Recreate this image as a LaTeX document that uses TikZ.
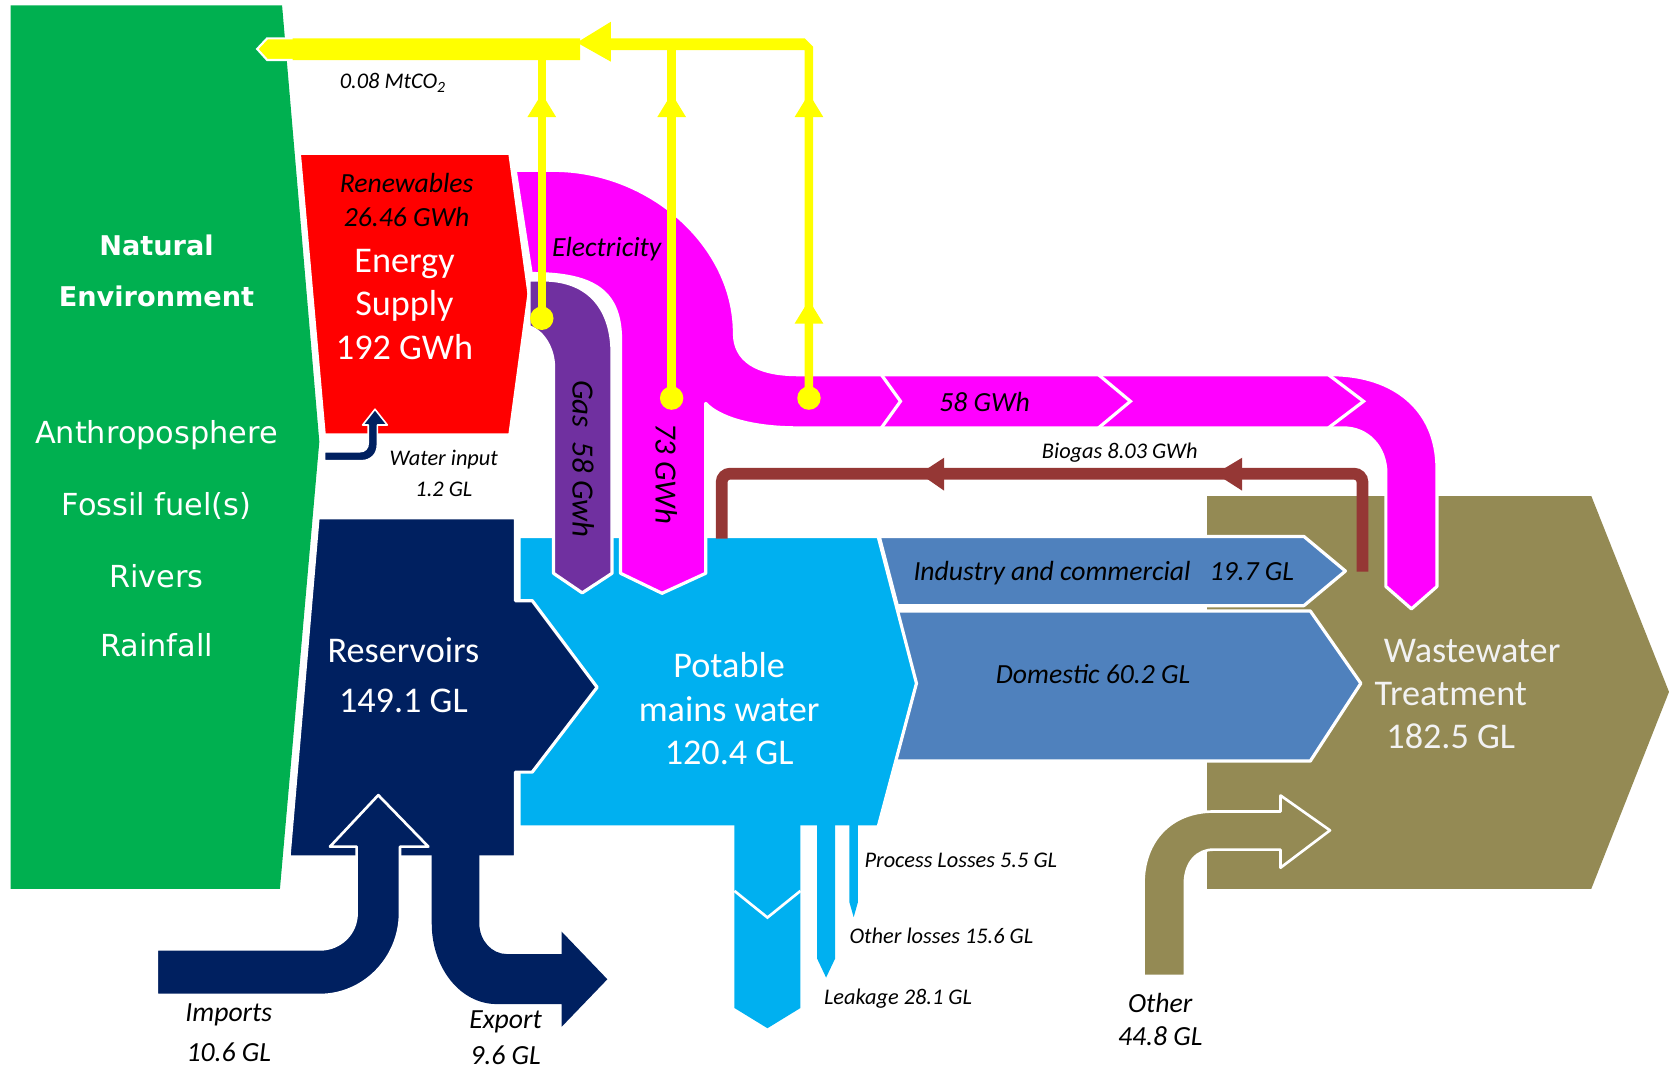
\documentclass[tikz,border=0pt]{standalone}
\usepackage{fontspec}
\setmainfont{Carlito}
\newfontfamily\envfont{DejaVu Sans}
\usepackage{xcolor}
\usetikzlibrary{positioning}

\definecolor{envgreen}{HTML}{00B050}
\definecolor{enred}{HTML}{FF0000}
\definecolor{resnavy}{HTML}{002060}
\definecolor{potblue}{HTML}{00B0F0}
\definecolor{useblue}{HTML}{4F81BD}
\definecolor{wwolive}{HTML}{948A54}
\definecolor{elmag}{HTML}{FF00FF}
\definecolor{gaspurple}{HTML}{7030A0}
\definecolor{co2yel}{HTML}{FFFF00}
\definecolor{biobrown}{HTML}{953735}

\begin{document}
\begin{tikzpicture}[
    x=1pt, y=-1pt,
    flow/.style={draw=white, line width=3pt, line join=round},
    big/.style={font=\fontsize{34}{41}\selectfont, text=white, align=center, inner sep=0pt},
    env/.style={font=\envfont\fontsize{28.5}{33}\selectfont, text=white, inner sep=0pt},
    envb/.style={font=\envfont\bfseries\fontsize{25.5}{30}\selectfont, text=white, inner sep=0pt},
    lbl/.style={font=\itshape\fontsize{26}{31}\selectfont, inner sep=0pt, align=center},
    vlbl/.style={font=\itshape\fontsize{29}{34}\selectfont, inner sep=0pt, rotate=-90},
    sml/.style={font=\itshape\fontsize{21}{25}\selectfont, inner sep=0pt},
    co2/.style={co2yel, line width=8pt},
]
\useasboundingbox (0,0) rectangle (1568,1006);

% ===== Natural environment =====
\fill[envgreen] (10,5) -- (265,5) -- (300,415) -- (263,835) -- (10,835) -- cycle;

% ===== Wastewater treatment =====
\fill[wwolive] (1134,466) -- (1495,466) -- (1568,650) -- (1495,835) -- (1134,835) -- cycle;

% ===== Water use arrows =====
\filldraw[useblue, flow] (826,504) -- (1225,504) -- (1264,536.5) -- (1225,569) -- (843,569) -- cycle;
\filldraw[useblue, flow] (835,574) -- (1231,574) -- (1278.5,642) -- (1231,715) -- (835,715) -- cycle;

% ===== Potable mains water =====
\filldraw[potblue, flow] (487.5,504) -- (825,504) -- (861,642) -- (825,777) -- (487.5,777) -- cycle;

% losses below potable box
\fill[potblue] (690,774) -- (752,774) -- (752,947) -- (721,966) -- (690,947) -- cycle;
\draw[white, line width=2.5pt] (690,837) -- (721,862) -- (752,837);
\fill[potblue] (767.7,774) -- (784.5,774) -- (784.5,900.7) -- (776.1,918.4) -- (767.7,900.7) -- cycle;
\fill[potblue] (798,774) -- (806,774) -- (806,847.6) -- (802,861.7) -- (798,847.6) -- cycle;

% ===== Reservoirs =====
\filldraw[resnavy, flow] (298.8,486.4) -- (484.2,486.4) -- (484.2,564.3) -- (500,564.3) -- (561,645.7)
    -- (500,725.4) -- (484.2,725.4) -- (484.2,805) -- (271.5,805) -- cycle;

% imports and export
\filldraw[resnavy, draw=white, line width=2.5pt, line join=round] (147.2,891.9) -- (300.6,891.9)
    .. controls (319.6,891.9) and (335,877) .. (335,858) -- (335,795.4) -- (310,795.4) -- (355.4,747)
    -- (402.4,795.4) -- (375.8,795.4) -- (375.8,858) .. controls (375.8,900) and (342,934.8) .. (300.6,934.8)
    -- (147.2,934.8) -- cycle;
\fill[resnavy] (405.6,800) -- (405.6,867.5) .. controls (405.6,909.5) and (432.6,943.3) .. (466.6,943.3)
    -- (527.7,943.3) -- (527.7,964.6) -- (570.6,920) -- (527.7,875.3) -- (527.7,896.3) -- (476,896.3)
    .. controls (462,896.3) and (450.3,883.5) .. (450.3,867.5) -- (450.3,800) -- cycle;

% ===== Energy supply =====
\filldraw[enred, flow] (281.2,144) -- (479,144) -- (497,276) -- (479,408.7) -- (304.6,408.7) -- cycle;

% water input
\filldraw[resnavy, draw=white, line width=1.5pt, line join=round] (305,424.4) -- (338,424.4)
    .. controls (343,424.4) and (346,421) .. (346,416) -- (346,399.3) -- (340.7,399.3) -- (352.3,384.5)
    -- (363.9,399.3) -- (354.5,399.3) -- (354.5,418) .. controls (354.5,427) and (348,432.8) .. (340,432.8)
    -- (305,432.8) -- cycle;

% ===== Electricity =====
\filldraw[elmag, flow] (484,160) -- (520,160) .. controls (610,160) and (690,230) .. (690,313)
    .. controls (690,338) and (710,352) .. (750,352) -- (1250,352)
    .. controls (1310,352) and (1350,385) .. (1350,440) -- (1350,551) -- (1326,572) -- (1302,551)
    -- (1302,445) .. controls (1302,420) and (1285,402) .. (1262,402) -- (750,402)
    .. controls (705,402) and (675,392) .. (663,379) -- (663,538.6) -- (622,557.4) -- (583,538.6)
    -- (583,320) .. controls (583,275) and (560,257) .. (499,257) -- cycle;
\foreach \cx/\tx in {828/846, 1032/1062, 1248/1281}
    \draw[white, line width=3pt] (\cx,352) -- (\tx,377) -- (\cx,402);

% gas
\filldraw[gaspurple, flow] (497,263) -- (510,263) .. controls (555,263) and (575,292) .. (575,332)
    -- (575,538.6) -- (547,557) -- (520,538.6) -- (520,344) .. controls (520,330) and (512,312) .. (497,307) -- cycle;

% ===== Biogas =====
\draw[biobrown, line width=11pt, rounded corners=8pt] (1280,537) -- (1280,445) -- (678,445) -- (678,506);
\fill[biobrown] (864,445) -- (887,430) -- (887,461) -- cycle;
\fill[biobrown] (1142,445) -- (1167,430) -- (1167,461) -- cycle;

% ===== Other inflow =====
\filldraw[wwolive, draw=white, line width=2.5pt, line join=round] (1074.3,917) -- (1074.3,830)
    .. controls (1074.3,790) and (1100,762.4) .. (1140,762.4) -- (1203,762.4) -- (1203,747.3)
    -- (1249.5,780.1) -- (1203,815.2) -- (1203,798.2) -- (1140,798.2)
    .. controls (1125,798.2) and (1113.2,810) .. (1113.2,830) -- (1113.2,917) -- cycle;

% ===== CO2 emissions =====
\fill[co2yel] (545,36) -- (251,36) -- (241.6,46) -- (251,56.4) -- (545,56.4) -- cycle;
\draw[white, line width=2pt, line join=miter] (275,36) -- (251,36) -- (241.6,46) -- (251,56.4) -- (275,56.4);
\fill[co2yel] (542,40) -- (574,20.4) -- (574,58) -- cycle;
\fill[co2yel] (570,36) -- (756,36) -- (764,44) -- (764,374) -- (756,374) -- (756,47) -- (570,47) -- cycle;
\draw[co2] (509,299) -- (509,52);
\draw[co2] (631,374) -- (631,44);
\foreach \ax/\ay in {509/88, 631/88, 760/88, 760/282}
    \fill[co2yel] (\ax,\ay) -- (\ax+13.5,\ay+22) -- (\ax-13.5,\ay+22) -- cycle;
\coordinate (c1) at (509,299);
\coordinate (c2) at (631,374);
\coordinate (c3) at (760,374);
\foreach \c in {c1, c2, c3}
    \fill[co2yel] (\c) circle[radius=11pt];

% ===== Labels =====
\node[envb] (natural) at (147,231) {Natural};
\node[envb] (environ) at (147,278) {Environment};
\node[env] (anthro) at (147,409) {Anthroposphere};
\node[env] (fossil) at (147,475) {Fossil fuel(s)};
\node[env] (rivers) at (147,541) {Rivers};
\node[env] (rain) at (147,606) {Rainfall};

\node[lbl] (renew) at (382,172) {Renewables};
\node[lbl] (renewval) at (382,204) {26.46 GWh};
\node[big] (energy) at (380,286) {Energy\\Supply\\192 GWh};
\node[big, font=\fontsize{34}{47}\selectfont] (reserv) at (379,634) {Reservoirs\\149.1 GL};
\node[big] (potable) at (685,666) {Potable\\mains water\\120.4 GL};
\node[big, text=white!95!black] (ww1) at (1383,612) {Wastewater};
\node[big, text=white!95!black] (ww2) at (1363,652) {Treatment};
\node[big, text=white!95!black] (ww3) at (1363,692) {182.5 GL};

\node[lbl] (elec) at (570,234) {Electricity};
\node[lbl] (elecval) at (925,378) {58 GWh};
\node[vlbl] (elec73) at (626,445) {73 GWh};
\node[vlbl] (gas) at (548,431) {Gas\ \ 58 Gwh};
\node[sml] (co2lbl) at (369,78) {0.08 MtCO\textsubscript{2}};
\node[sml] (watin) at (417,432) {Water input};
\node[sml] (watinval) at (417,460) {1.2 GL};
\node[sml] (biogas) at (1052,425) {Biogas 8.03 GWh};
\node[lbl] (indus) at (1037,538) {Industry and commercial\hspace{18pt}19.7 GL};
\node[lbl] (domes) at (1027,633) {Domestic 60.2 GL};
\node[sml, anchor=west] (proc) at (812,808) {Process Losses 5.5 GL};
\node[sml, anchor=west] (othloss) at (798,879) {Other losses 15.6 GL};
\node[sml, anchor=west] (leak) at (774,938) {Leakage 28.1 GL};
\node[lbl] (imports) at (215,953) {Imports};
\node[lbl] (importsval) at (215,989) {10.6 GL};
\node[lbl] (export) at (475,960) {Export};
\node[lbl] (exportval) at (475,991) {9.6 GL};
\node[lbl] (other) at (1090,942) {Other};
\node[lbl] (otherval) at (1090,973) {44.8 GL};

\end{tikzpicture}
\end{document}
